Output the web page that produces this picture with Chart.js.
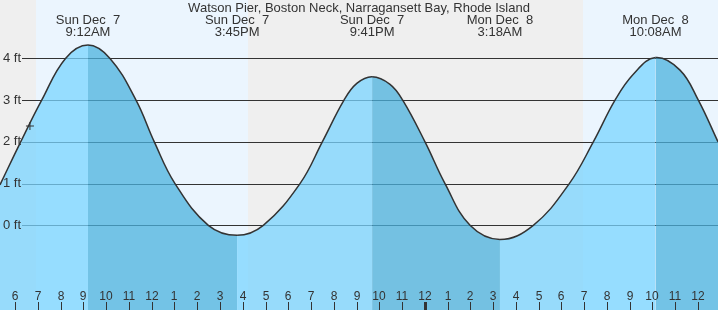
<!DOCTYPE html>
<html>
<head>
<meta charset="utf-8">
<title>Watson Pier 潮汐图</title>
<script src="https://cdn.jsdelivr.net/npm/chart.js@4.4.1/dist/chart.umd.min.js"></script>
<style>
    html, body { margin: 0; padding: 0; background: #ffffff; }
    #tideChart { display: block; }
</style>
</head>
<body>
<canvas id="tideChart" width="718" height="310"></canvas>
<script>
// 标题
const chartTitle = 'Watson Pier, Boston Neck, Narragansett Bay, Rhode Island';

// 潮位曲线：小时（自 12月7日 0:00 起算），潮高（ft）
const tideHours   = [5.334, 6.243, 7.166, 8.212, 9.2, 10.167, 11.31, 12.113, 13.023, 14.487, 15.75,
                     16.902, 18.515, 19.495, 20.448, 21.01, 21.683, 22.47, 23.027, 24.008, 24.886, 25.985, 27.3,
                     28.766, 30.347, 31.402, 32.356, 33.16, 34.133, 35.21, 36.016, 36.88];
const tideHeights = [0.97, 2, 3, 4, 4.32, 4, 3, 2, 1, 0, -0.24,
                     0, 1, 2, 3, 3.4, 3.56, 3.38, 3, 2, 1, 0, -0.34,
                     0, 1, 2, 3, 3.62, 4.02, 3.72, 3, 2.0];

// 当前时刻标记
const nowHours   = [6.65];
const nowHeights = [2.38];

// 高低潮注释
const extremeHours = [9.2, 15.75, 21.683, 27.3, 34.133];
const extremeDays  = ['Sun Dec  7', 'Sun Dec  7', 'Sun Dec  7', 'Mon Dec  8', 'Mon Dec  8'];
const extremeTimes = ['9:12AM', '3:45PM', '9:41PM', '3:18AM', '10:08AM'];

// 白天区间（日出、日落）
const dayStart = [6.92, 30.95];
const dayEnd   = [16.23, 40.2];

// 坐标轴
const xRange = [5.334, 36.88];
const yRange = [-2.03, 5.4];
const xTickHours  = [6, 7, 8, 9, 10, 11, 12, 13, 14, 15, 16, 17, 18, 19, 20, 21, 22, 23,
                     24, 25, 26, 27, 28, 29, 30, 31, 32, 33, 34, 35, 36];
const xTickLabels = ['6', '7', '8', '9', '10', '11', '12', '1', '2', '3', '4', '5', '6', '7', '8', '9', '10', '11',
                     '12', '1', '2', '3', '4', '5', '6', '7', '8', '9', '10', '11', '12'];
const midnightHours = [24];
const yTickValues = [0, 1, 2, 3, 4];
const yTickLabels = ['0 ft', '1 ft', '2 ft', '3 ft', '4 ft'];

const COLORS = {
    night: '#efefef',
    day: 'rgb(235, 245, 254)',
    flood: 'rgba(122, 212, 255, 0.75)',
    ebb: 'rgba(75, 177, 222, 0.75)',
    line: '#333333',
    grid: '#333333',
    text: '#333333'
};
const FONT = '"Liberation Sans", Arial, sans-serif';

/**
 * 背景、网格、刻度和文字
 */
const tideDecor = {
    id: 'tideDecor',
    beforeDraw(chart) {
        const { ctx, chartArea: a, scales: { x, y } } = chart;
        ctx.save();

        // 夜间底色 + 白天色带
        ctx.fillStyle = COLORS.night;
        ctx.fillRect(a.left, a.top, a.right - a.left, a.bottom - a.top);
        ctx.fillStyle = COLORS.day;
        dayStart.forEach((s, i) => {
            const x0 = Math.max(Math.round(x.getPixelForValue(s)), a.left);
            const x1 = Math.min(Math.round(x.getPixelForValue(dayEnd[i])), a.right);
            ctx.fillRect(x0, a.top, x1 - x0, a.bottom - a.top);
        });

        // 横向网格线（从标签右侧开始）
        ctx.strokeStyle = COLORS.grid;
        ctx.lineWidth = 1;
        yTickValues.forEach(v => {
            const py = Math.round(y.getPixelForValue(v)) + 0.5;
            ctx.beginPath();
            ctx.moveTo(a.left + 22, py);
            ctx.lineTo(a.right, py);
            ctx.stroke();
        });
        ctx.restore();
    },
    afterDraw(chart) {
        const { ctx, chartArea: a, scales: { x } } = chart;
        ctx.save();
        ctx.fillStyle = COLORS.text;
        ctx.textAlign = 'center';
        ctx.textBaseline = 'alphabetic';

        // 标题
        ctx.font = '13px ' + FONT;
        ctx.fillText(chartTitle, (a.left + a.right) / 2, 12);

        // 高低潮时间
        extremeHours.forEach((h, i) => {
            const px = x.getPixelForValue(h);
            ctx.fillText(extremeDays[i], px, 24);
            ctx.fillText(extremeTimes[i], px, 36);
        });

        // 底部小时刻度
        ctx.font = '12px ' + FONT;
        xTickHours.forEach((h, i) => {
            const px = Math.round(x.getPixelForValue(h));
            ctx.fillText(xTickLabels[i], px, a.bottom - 10);
            const w = midnightHours.includes(h) ? 3 : 1;
            ctx.fillRect(px - Math.floor(w / 2), a.bottom - 8, w, 8);
        });
        ctx.restore();
    }
};

const ctx = document.getElementById('tideChart').getContext('2d');

window.tideChart = new Chart(ctx, {
    type: 'line',
    data: {
        datasets: [
            {
                // 当前时刻
                data: nowHours.map((h, i) => ({ x: h, y: nowHeights[i] })),
                showLine: false,
                fill: false,
                pointStyle: 'cross',
                pointRadius: 4,
                pointBorderColor: COLORS.line,
                pointBorderWidth: 1
            },
            {
                // 潮位
                data: tideHours.map((h, i) => ({ x: h, y: tideHeights[i] })),
                borderColor: COLORS.line,
                borderWidth: 1.5,
                backgroundColor: COLORS.flood,
                fill: 'start',
                pointRadius: 0,
                tension: 0.4,
                segment: {
                    // 落潮段用深色
                    backgroundColor: c => c.p1.parsed.y < c.p0.parsed.y ? COLORS.ebb : COLORS.flood
                }
            }
        ]
    },
    options: {
        responsive: false,
        animation: false,
        devicePixelRatio: 1,
        layout: { padding: 0, autoPadding: false },
        plugins: {
            legend: { display: false },
            tooltip: { enabled: false },
            title: { display: false }
        },
        scales: {
            x: {
                type: 'linear',
                display: false,
                min: xRange[0],
                max: xRange[1]
            },
            y: {
                type: 'linear',
                min: yRange[0],
                max: yRange[1],
                grid: { display: false },
                border: { display: false },
                // 标签画在图内，不占布局空间
                afterFit: s => {
                    s.width = 0;
                    s.paddingTop = 0;
                    s.paddingBottom = 0;
                },
                afterBuildTicks: s => { s.ticks = yTickValues.map(v => ({ value: v })); },
                ticks: {
                    z: 1,
                    mirror: true,
                    padding: 3,
                    color: COLORS.text,
                    font: { family: FONT, size: 13 },
                    callback: (value, index) => yTickLabels[index]
                }
            }
        }
    },
    plugins: [tideDecor]
});
</script>
</body>
</html>
